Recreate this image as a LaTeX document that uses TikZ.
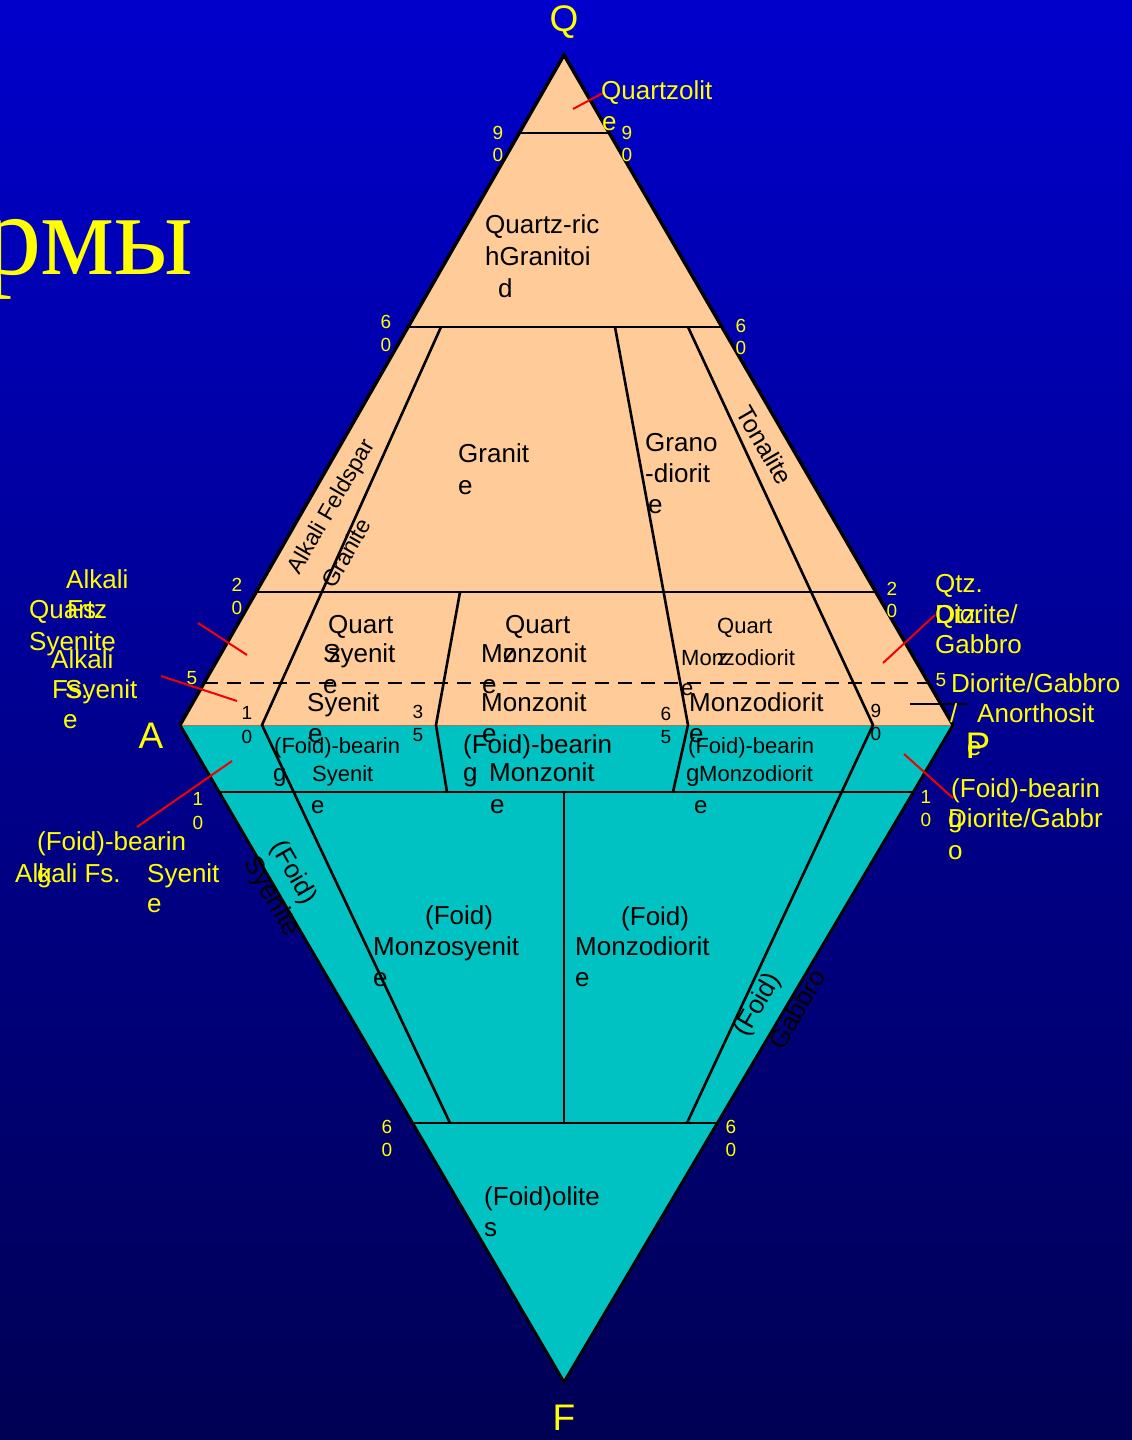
\documentclass[tikz,border=0pt]{standalone}
\usepackage{fontspec}
\setmainfont{Liberation Sans}
\newfontfamily\cyrserif{Liberation Serif}
\definecolor{peach}{RGB}{255,204,153}
\definecolor{aqua}{RGB}{0,194,194}
\definecolor{bgtop}{RGB}{0,0,204}
\definecolor{bgbot}{RGB}{0,0,84}
\definecolor{ylw}{RGB}{255,255,0}
\definecolor{redl}{RGB}{240,0,0}
\tikzset{
  bl/.style={inner sep=0pt, anchor=base west, text=black, font=\fontsize{26}{30}\selectfont},
  bls/.style={inner sep=0pt, anchor=base west, text=black, font=\fontsize{22}{26}\selectfont},
  yl/.style={inner sep=0pt, anchor=base west, text=ylw, font=\fontsize{26}{30}\selectfont},
  rot/.style={inner sep=0pt, anchor=center, text=black, font=\fontsize{25}{28}\selectfont},
  ynum/.style={inner sep=0pt, anchor=center, text=ylw, font=\fontsize{19}{22}\selectfont},
  bnum/.style={inner sep=0pt, anchor=center, text=black, font=\fontsize{19}{22}\selectfont},
  vtx/.style={inner sep=0pt, anchor=center, text=ylw, font=\fontsize{37}{40}\selectfont},
  inner/.style={draw=black, line width=2.6pt},
  outer/.style={draw=black, line width=3.4pt, line join=miter},
  pointer/.style={draw=redl, line width=2pt},
}
\begin{document}
\begin{tikzpicture}[x=1pt,y=-1pt]
\useasboundingbox (0,0) rectangle (1132,1440);
\clip (0,0) rectangle (1132,1440);
\shade[top color=bgtop, bottom color=bgbot] (0,0) rectangle (1132,1440);
% vertices and key points
\coordinate (Q) at (564,55);
\coordinate (A) at (180,725);
\coordinate (P) at (953,725);
\coordinate (F) at (564,1382);
\coordinate (q90l) at (519,133); \coordinate (q90r) at (609,133);
\coordinate (q60l) at (408,327); \coordinate (q60r) at (722,327);
\coordinate (q20l) at (256,592); \coordinate (q20r) at (876,592);
\coordinate (d5l) at (204,683);  \coordinate (d5r) at (929,683);
\coordinate (f10l) at (219,792); \coordinate (f10r) at (913,792);
\coordinate (f60l) at (413,1123); \coordinate (f60r) at (717,1123);
\coordinate (a1) at (441,327); \coordinate (a2) at (262,725); \coordinate (a3) at (450,1123);
\coordinate (b1) at (460,592); \coordinate (b2) at (436,725); \coordinate (b3) at (447,792);
\coordinate (c1) at (615,327); \coordinate (c2) at (688,725); \coordinate (c3) at (673,792);
\coordinate (e1) at (688,327); \coordinate (e2) at (873,725); \coordinate (e3) at (687,1123);
\coordinate (m1) at (564,792); \coordinate (m2) at (564,1123);
% fills
\fill[peach] (Q) -- (A) -- (P) -- cycle;
\fill[aqua] (A) -- (P) -- (F) -- cycle;
\draw[peach!60!black, line width=1pt] (A) -- (P);
% inner lines
\draw[inner] (q90l) -- (q90r);
\draw[inner] (q60l) -- (q60r);
\draw[inner] (q20l) -- (q20r);
\draw[inner] (f10l) -- (f10r);
\draw[inner] (f60l) -- (f60r);
\draw[black, line width=2pt, dash pattern=on 14pt off 9pt] (d5l) -- (d5r);
\draw[inner] (a1) -- (a2) -- (a3);
\draw[inner] (b1) -- (b2) -- (b3);
\draw[inner] (c1) -- (c2) -- (c3);
\draw[inner] (e1) -- (e2) -- (e3);
\draw[inner] (m1) -- (m2);
% outer edges
\draw[outer] (A) -- (Q) -- (P);
\draw[black, line width=2.8pt] (A) -- (F) -- (P);
% pointer lines
\coordinate (r1a) at (573,109); \coordinate (r1b) at (603,93);
\coordinate (r2a) at (198,623); \coordinate (r2b) at (247,655);
\coordinate (r3a) at (161,676); \coordinate (r3b) at (237,701);
\coordinate (r4a) at (137,827); \coordinate (r4b) at (232,761);
\coordinate (r5a) at (883,663); \coordinate (r5b) at (935,615);
\coordinate (r6a) at (904,754); \coordinate (r6b) at (953,798);
\draw[pointer] (r1a) -- (r1b);
\draw[pointer] (r2a) -- (r2b);
\draw[pointer] (r3a) -- (r3b);
\draw[pointer] (r4a) -- (r4b);
\draw[pointer] (r5a) -- (r5b);
\draw[pointer] (r6a) -- (r6b);
\coordinate (an1) at (910,704); \coordinate (an2) at (968,704);
\draw[black, line width=2pt] (an1) -- (an2);
% big cyrillic title fragment
\node[inner sep=0pt, anchor=base east, text=ylw, font=\cyrserif\fontsize{117}{120}\selectfont] (title) at (193,274) {рмы};
% vertex labels
\node[vtx] (lQ) at (564,22) {Q};
\node[vtx] (lA) at (151,736) {A};
\node[vtx] (lP) at (978,746) {P};
\node[vtx] (lF) at (564,1418) {F};
% black field labels
\node[bl] (t1) at (485,233) {Quartz-ric};
\node[bl] (t2) at (485,265) {hGranitoi};
\node[bl] (t3) at (498,297) {d};
\node[bl] (t4) at (458,462) {Granit};
\node[bl] (t5) at (458,494) {e};
\node[bl] (t6) at (645,451) {Grano};
\node[bl] (t7) at (645,482) {-diorit};
\node[bl] (t8) at (648,513) {e};
\node[rot, rotate=-60] (t9) at (765,445) {Tonalite};
\node[rot, rotate=60, font=\fontsize{23}{26}\selectfont] (t10) at (332,507) {Alkali Feldspar};
\node[rot, rotate=60, font=\fontsize{23}{26}\selectfont] (t11) at (346,553) {Granite};
% quartz syenite
\node[bl] (t12) at (328,633) {Quart};
\node[bl] (t13) at (323,662) {Syenit};
\node[bl] (t14) at (328,662) {z};
\node[bl] (t15) at (323,693) {e};
% quartz monzonite
\node[bl] (t16) at (505,633) {Quart};
\node[bl] (t17) at (481,662) {Monzonit};
\node[bl] (t18) at (503,662) {z};
\node[bl] (t19) at (482,693) {e};
% quartz monzodiorite
\node[bls] (t20) at (717,633) {Quart};
\node[bls] (t21) at (681,665) {Monzodiorit};
\node[bls] (t22) at (717,665) {z};
\node[bls] (t23) at (681,695) {e};
% syenite / monzonite / monzodiorite
\node[bl] (t24) at (307,711) {Syenit};
\node[bl] (t25) at (308,742) {e};
\node[bl] (t26) at (481,711) {Monzonit};
\node[bl] (t27) at (482,742) {e};
\node[bl] (t28) at (689,711) {Monzodiorit};
\node[bl] (t29) at (689,742) {e};
% foid-bearing
\node[bls] (t30) at (274,753) {(Foid)-bearin};
\node[bl, font=\fontsize{24}{28}\selectfont] (t31) at (273,781) {g};
\node[bls] (t32) at (312,781) {Syenit};
\node[bl, font=\fontsize{24}{28}\selectfont] (t33) at (311,813) {e};
\node[bl] (t34) at (463,753) {(Foid)-bearin};
\node[bl] (t35) at (463,781) {g};
\node[bl] (t36) at (489,781) {Monzonit};
\node[bl] (t37) at (490,813) {e};
\node[bls] (t38) at (688,753) {(Foid)-bearin};
\node[bl, font=\fontsize{24}{28}\selectfont] (t39) at (686,781) {g};
\node[bls] (t40) at (699,781) {Monzodiorit};
\node[bl, font=\fontsize{24}{28}\selectfont] (t41) at (694,813) {e};
% foid fields
\node[bl] (t42) at (425,924) {(Foid)};
\node[bl] (t43) at (373,955) {Monzosyenit};
\node[bl] (t44) at (373,986) {e};
\node[bl] (t45) at (621,925) {(Foid)};
\node[bl] (t46) at (575,955) {Monzodiorit};
\node[bl] (t47) at (575,986) {e};
\node[rot, rotate=-60, font=\fontsize{26}{30}\selectfont] (t48) at (293,873) {(Foid)};
\node[rot, rotate=-60, font=\fontsize{26}{30}\selectfont] (t49) at (271,897) {Syenite};
\node[rot, rotate=60, font=\fontsize{26}{30}\selectfont] (t50) at (758,1005) {(Foid)};
\node[rot, rotate=60, font=\fontsize{26}{30}\selectfont] (t51) at (797,1009) {Gabbro};
\node[bl] (t52) at (484,1205) {(Foid)olite};
\node[bl] (t53) at (484,1236) {s};
% yellow numbers
\node[ynum] (n1) at (498,133) {9};   \node[ynum] (n2) at (498,155) {0};
\node[ynum] (n3) at (627,133) {9};   \node[ynum] (n4) at (627,155) {0};
\node[ynum] (n5) at (386,322) {6};   \node[ynum] (n6) at (386,345) {0};
\node[ynum] (n7) at (741,326) {6};   \node[ynum] (n8) at (741,348) {0};
\node[ynum] (n9) at (237,585) {2};   \node[ynum] (n10) at (237,608) {0};
\node[ynum] (n11) at (892,589) {2};  \node[ynum] (n12) at (892,611) {0};
\node[ynum] (n13) at (192,678) {5};
\node[ynum] (n14) at (941,680) {5};
\node[ynum] (n15) at (198,799) {1};  \node[ynum] (n16) at (198,823) {0};
\node[ynum] (n17) at (926,797) {1};  \node[ynum] (n18) at (926,820) {0};
\node[ynum] (n19) at (387,1127) {6}; \node[ynum] (n20) at (387,1150) {0};
\node[ynum] (n21) at (731,1127) {6}; \node[ynum] (n22) at (731,1150) {0};
% black numbers
\node[bnum] (n23) at (247,713) {1}; \node[bnum] (n24) at (247,737) {0};
\node[bnum] (n25) at (418,712) {3}; \node[bnum] (n26) at (418,735) {5};
\node[bnum] (n27) at (666,714) {6}; \node[bnum] (n28) at (666,737) {5};
\node[bnum] (n29) at (876,711) {9}; \node[bnum] (n30) at (876,734) {0};
% yellow outside labels
\node[yl] (y1) at (601,99) {Quartzolit};
\node[yl] (y2) at (602,130) {e};
\node[yl] (y3) at (66,588) {Alkali};
\node[yl] (y4) at (29,618) {Quartz};
\node[yl] (y5) at (67,618) {Fs.};
\node[yl] (y6) at (29,650) {Syenite};
\node[yl] (y7) at (51,668) {Alkali};
\node[yl] (y8) at (52,698) {Fs.};
\node[yl] (y9) at (65,698) {Syenit};
\node[yl] (y10) at (63,728) {e};
\node[yl] (y11) at (37,850) {(Foid)-bearin};
\node[yl] (y12) at (15,882) {Alkali Fs.};
\node[yl] (y13) at (37,882) {g};
\node[yl] (y14) at (147,882) {Syenit};
\node[yl] (y15) at (147,912) {e};
\node[yl] (y16) at (935,592) {Qtz.};
\node[yl] (y17) at (935,623) {Diorite/};
\node[yl] (y18) at (935,623) {Qtz.};
\node[yl] (y19) at (935,653) {Gabbro};
\node[yl] (y20) at (951,692) {Diorite/Gabbro};
\node[yl] (y21) at (950,722) {/};
\node[yl] (y22) at (977,722) {Anorthosit};
\node[yl] (y23) at (967,755) {e};
\node[yl] (y24) at (951,797) {(Foid)-bearin};
\node[yl] (y25) at (948,827) {Diorite/Gabbr};
\node[yl] (y26) at (948,827) {g};
\node[yl] (y27) at (948,859) {o};
\end{tikzpicture}
\end{document}
